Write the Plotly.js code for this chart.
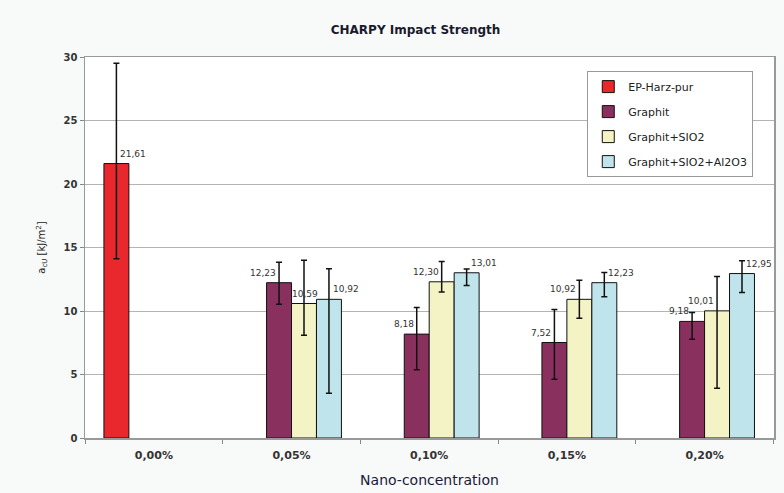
<!DOCTYPE html>
<html>
<head>
<meta charset="utf-8">
<script src="https://cdn.plot.ly/plotly-3.0.1.min.js"></script>
<style>html,body{margin:0;padding:0;background:#f8f9f9;}#chart{width:784px;height:493px;}</style>
</head>
<body>
<div id="chart"></div>
<script>
const categories = ['0,00%', '0,05%', '0,10%', '0,15%', '0,20%'];
const seriesNames = ['EP-Harz-pur', 'Graphit', 'Graphit+SIO2', 'Graphit+SIO2+Al2O3'];

const epValues     = [21.61, null, null, null, null];
const graphitValues = [null, 12.23, 8.18, 7.52, 9.18];
const sio2Values    = [null, 10.59, 12.30, 10.92, 10.01];
const al2o3Values   = [null, 10.92, 13.01, 12.23, 12.95];

const epErrPlus      = [7.9, null, null, null, null];
const epErrMinus     = [7.5, null, null, null, null];
const graphitErrPlus  = [null, 1.6, 2.1, 2.6, 0.7];
const graphitErrMinus = [null, 1.7, 2.8, 2.9, 1.4];
const sio2ErrPlus     = [null, 3.4, 1.6, 1.5, 2.7];
const sio2ErrMinus    = [null, 2.5, 0.8, 1.5, 6.1];
const al2o3ErrPlus    = [null, 2.4, 0.3, 0.8, 1.0];
const al2o3ErrMinus   = [null, 7.4, 1.0, 1.1, 1.5];

const yTickVals = [0, 5, 10, 15, 20, 25, 30];

// label placement relative to error bar (style)
const epAlign      = ['left', null, null, null, null];
const graphitAlign = [null, 'right', 'right', 'right', 'right'];
const sio2Align    = [null, 'center', 'right', 'right', 'right'];
const al2o3Align   = [null, 'left', 'left', 'left', 'left'];

const FONT = 'DejaVu Sans, Liberation Sans, Arial, sans-serif';
const colors = ['#e8282c', '#8a305f', '#f4f3c6', '#bfe4ec'];
const values = [epValues, graphitValues, sio2Values, al2o3Values];
const errP = [epErrPlus, graphitErrPlus, sio2ErrPlus, al2o3ErrPlus];
const errM = [epErrMinus, graphitErrMinus, sio2ErrMinus, al2o3ErrMinus];
const aligns = [epAlign, graphitAlign, sio2Align, al2o3Align];

const BARGAP = 0.275;
const nSeries = seriesNames.length;
const slot = (1 - BARGAP) / nSeries;

const traces = seriesNames.map((name, i) => ({
  type: 'bar',
  name: name,
  x: categories,
  y: values[i],
  marker: {color: colors[i], line: {color: '#111', width: 1}},
  error_y: {type: 'data', symmetric: false, array: errP[i], arrayminus: errM[i],
            color: '#111', thickness: 1.5, width: 3},
  legendgroup: 'g' + i,
  hoverinfo: 'x+y+name'
}));

const fmt = v => v.toFixed(2).replace('.', ',');
const annotations = [];
values.forEach((arr, i) => {
  arr.forEach((v, j) => {
    if (v === null) return;
    const al = aligns[i][j];
    const center = j - (1 - BARGAP) / 2 + slot * (i + 0.5);
    annotations.push({
      x: center, y: v, xref: 'x', yref: 'y',
      text: fmt(v), showarrow: false,
      xanchor: al, yanchor: 'bottom',
      xshift: al === 'left' ? 2 : (al === 'right' ? -1 : 1),
      yshift: 3,
      font: {family: FONT, size: 9, color: '#333'}
    });
  });
});

const layout = {
  width: 784, height: 493,
  paper_bgcolor: '#f8f9f9',
  plot_bgcolor: '#ffffff',
  margin: {l: 85, r: 10, t: 57, b: 55},
  font: {family: FONT, color: '#222'},
  title: {text: '<b>CHARPY Impact Strength</b>', x: 0.53, xanchor: 'center', y: 0.94, yanchor: 'middle',
          font: {size: 12, color: '#1a1a2e'}},
  barmode: 'group',
  bargap: BARGAP,
  bargroupgap: 0,
  xaxis: {
    type: 'category',
    categoryarray: categories,
    tickvals: categories,
    ticktext: categories.map(c => '<b>' + c + '</b>'),
    tickson: 'boundaries',
    ticks: 'outside', ticklen: 4, tickcolor: '#888',
    ticklabelstandoff: 6,
    showline: true, linecolor: '#999', linewidth: 1.5, mirror: true,
    showgrid: false,
    tickfont: {size: 11, color: '#333'},
    title: {text: 'Nano-concentration', font: {size: 14, color: '#1a1a3a'}, standoff: 14}
  },
  yaxis: {
    range: [0, 30],
    tickvals: yTickVals,
    ticktext: yTickVals.map(v => '<b>' + v + '</b>'),
    ticks: 'outside', ticklen: 4, tickcolor: '#888',
    showline: true, linecolor: '#999', linewidth: 1.5, mirror: true,
    showgrid: true, gridcolor: '#b3b3b3', gridwidth: 1,
    zeroline: false,
    tickfont: {size: 10, color: '#333'},
    title: {text: 'a<sub>cU</sub> [kJ/m<sup>2</sup>]', font: {size: 10, color: '#222'}, standoff: 16}
  },
  legend: {
    x: 0.729, y: 0.963, xanchor: 'left', yanchor: 'top',
    bgcolor: '#ffffff', bordercolor: '#999', borderwidth: 1,
    font: {size: 11, color: '#222'},
    traceorder: 'grouped', tracegroupgap: 6,
    itemwidth: 30
  },
  annotations: annotations,
  showlegend: true
};

Plotly.newPlot('chart', traces, layout, {displayModeBar: false, staticPlot: true});
</script>
</body>
</html>
